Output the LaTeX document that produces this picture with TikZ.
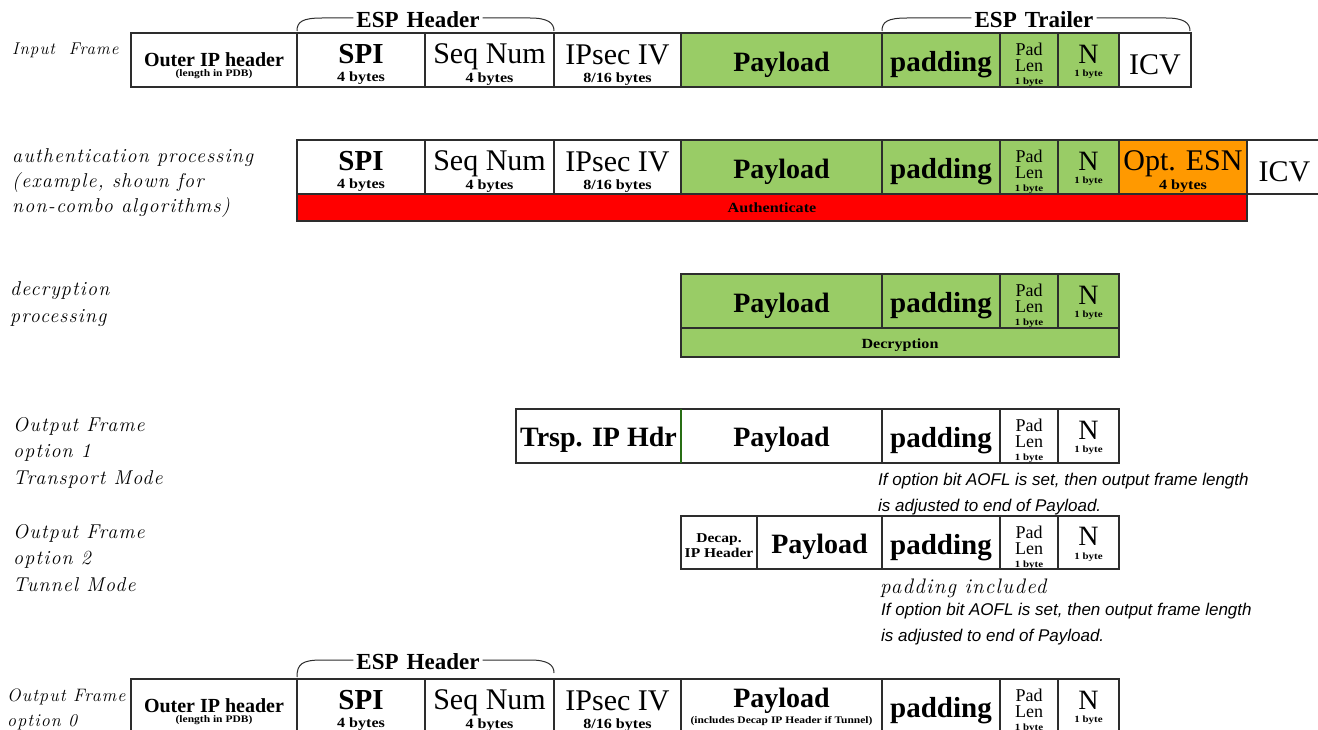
\documentclass[tikz,border=0pt]{standalone}
\usepackage{fontspec}
\newfontfamily\tms{Liberation Serif}
\newfontfamily\tmsw[FakeStretch=1.15]{Liberation Serif}
\newfontfamily\arl{Liberation Sans}
\newfontfamily\lmsp[LetterSpace=6]{Latin Modern Roman}
\newcommand\fs[1]{\fontsize{#1}{#1}\selectfont}
\definecolor{cellgreen}{RGB}{153,204,102}
\definecolor{esnorange}{RGB}{255,153,0}
\definecolor{authred}{RGB}{255,0,0}
\definecolor{edge}{RGB}{45,45,45}
\definecolor{hdrgreen}{RGB}{40,110,20}
\tikzset{
  cellbox/.style={draw=edge, line width=1.2pt, inner sep=0pt, outer sep=0pt, anchor=north west},
  celltext/.style={inner sep=0pt, align=center, font=\tms\fs{2}},
  grn/.style={fill=cellgreen},
  lbl/.style={anchor=base west, inner sep=0pt, align=left},
  note/.style={anchor=base west, inner sep=0pt, align=left,
    font=\arl\itshape\fontsize{17}{26}\selectfont},
  bracelbl/.style={inner ysep=0pt, inner xsep=3pt, font=\tms\bfseries\fs{23}},
  brace/.style={draw=edge, line width=1pt},
}
% one field of a frame: name, x0, x1, y0, y1, box style, drop of the text, text
\newcommand\field[8]{%
  \node[cellbox,minimum width={#3pt-#2pt},minimum height={#5pt-#4pt},#6] (#1) at (#2,#4) {};
  \node[celltext] (#1-t) at ([yshift=-#7pt]#1.center) {#8};}
\newcommand\bigB[1]{{\bfseries\fs{28}#1}}
\newcommand\bigR[1]{{\fs{30}#1}}
\newcommand\subtxt[1]{{\tmsw\bfseries\fs{14}#1}}
\newcommand\padlen{{\fs{18}Pad}\\[3pt]{\fs{18}Len}\\[5pt]{\tmsw\bfseries\fs{9.5}1 byte}}
\newcommand\nbyte{{\fs{28}N}\\[6pt]{\tmsw\bfseries\fs{9.5}1 byte}}
\newcommand\padd{{\bfseries\fs{29}padding}}
\newcommand\outerip{{\bfseries\fs{20}Outer IP header}\\[2pt]{\tmsw\bfseries\fs{10}(length in PDB)}}
\newcommand\spi{{\bfseries\fs{29}SPI}\\[7pt]\subtxt{4 bytes}}
\newcommand\seqn{\bigR{Seq Num}\\[2pt]\subtxt{4 bytes}}
\newcommand\ivtxt{\bigR{IPsec IV}\\[7pt]\subtxt{8/16 bytes}}
\begin{document}
\begin{tikzpicture}[x=1pt,y=-1pt]
\useasboundingbox (0,0) rectangle (1318,730);
\fill[white] (0,0) rectangle (1318,730);
\clip (0,0) rectangle (1318,730);

% ---- input frame ----
\node[lbl, font=\lmsp\itshape\fs{17}] (lin) at (12,55) {Input\ \ Frame};
\field{aIP}{131}{297}{33}{87}{}{6}{\outerip}
\field{aSPI}{297}{425}{33}{87}{}{4}{\spi}
\field{aSEQ}{425}{554}{33}{87}{}{5}{\seqn}
\field{aIV}{554}{681}{33}{87}{}{5}{\ivtxt}
\field{aPAY}{681}{882}{33}{87}{grn}{5}{\bigB{Payload}}
\field{aPAD}{882}{1000}{33}{87}{grn}{5}{\padd}
\field{aPL}{1000}{1058}{33}{87}{grn}{5}{\padlen}
\field{aN}{1058}{1119}{33}{87}{grn}{2}{\nbyte}
\field{aICV}{1119}{1191}{33}{87}{}{5}{\bigR{ICV}}
% header / trailer braces
\node[bracelbl] (hA) at (418,20) {ESP\hspace{0.35em}Header};
\draw[brace] (aSPI.north west) ++(0,-2) .. controls (297,22) and (302,18) .. (322,18) -- ([yshift=2pt]hA.west);
\draw[brace] ([yshift=2pt]hA.east) -- (530,18) .. controls (548,18) and (554,23) .. (554,31);
\node[bracelbl] (tA) at (1034,20) {ESP\hspace{0.35em}Trailer};
\draw[brace] (aPAD.north west) ++(0,-2) .. controls (882,22) and (887,18) .. (907,18) -- ([yshift=2pt]tA.west);
\draw[brace] ([yshift=2pt]tA.east) -- (1166,18) .. controls (1184,18) and (1190,23) .. (1190,31);

% ---- authentication processing ----
\node[lbl, font=\lmsp\itshape\fontsize{20}{25}\selectfont] (lauth) at (12,213)
  {authentication processing\\(example, shown for\\non-combo\ algorithms)};
\field{bSPI}{297}{425}{140}{194}{}{4}{\spi}
\field{bSEQ}{425}{554}{140}{194}{}{5}{\seqn}
\field{bIV}{554}{681}{140}{194}{}{5}{\ivtxt}
\field{bPAY}{681}{882}{140}{194}{grn}{5}{\bigB{Payload}}
\field{bPAD}{882}{1000}{140}{194}{grn}{5}{\padd}
\field{bPL}{1000}{1058}{140}{194}{grn}{5}{\padlen}
\field{bN}{1058}{1119}{140}{194}{grn}{2}{\nbyte}
\field{bESN}{1119}{1247}{140}{194}{fill=esnorange}{5}{\bigR{Opt. ESN}\\[2pt]\subtxt{4 bytes}}
\field{bICV}{1247}{1322}{140}{194}{}{5}{\bigR{ICV}}
\field{bAUTH}{297}{1247}{194}{221}{fill=authred}{0}{{\tmsw\bfseries\fs{14}Authenticate}}

% ---- decryption processing ----
\node[lbl, font=\lmsp\itshape\fontsize{20}{27}\selectfont] (ldec) at (10,323) {decryption\\processing};
\field{cPAY}{681}{882}{274}{328}{grn}{5}{\bigB{Payload}}
\field{cPAD}{882}{1000}{274}{328}{grn}{5}{\padd}
\field{cPL}{1000}{1058}{274}{328}{grn}{5}{\padlen}
\field{cN}{1058}{1119}{274}{328}{grn}{2}{\nbyte}
\field{cDEC}{681}{1119}{328}{357}{grn}{3}{{\tmsw\bfseries\fs{14}Decryption}}

% ---- output frame, option 1 ----
\node[lbl, font=\lmsp\itshape\fontsize{20}{26.5}\selectfont] (lo1) at (13,484)
  {Output Frame\\option 1\\Transport Mode};
\field{dIP}{516}{681}{409}{463}{}{4}{{\bfseries\fs{28}Trsp. IP Hdr}}
\field{dPAY}{681}{882}{409}{463}{}{4}{\bigB{Payload}}
\field{dPAD}{882}{1000}{409}{463}{}{5}{\padd}
\field{dPL}{1000}{1058}{409}{463}{}{5}{\padlen}
\field{dN}{1058}{1119}{409}{463}{}{2}{\nbyte}
\draw[hdrgreen, line width=1.2pt] (dIP.north east) -- (dIP.south east);
\node[note] (n1) at (878,511) {If option bit AOFL is set, then output frame length\\is adjusted to end of Payload.};

% ---- output frame, option 2 ----
\node[lbl, font=\lmsp\itshape\fontsize{20}{26.5}\selectfont] (lo2) at (13,591)
  {Output Frame\\option 2\\Tunnel Mode};
\field{eIP}{681}{757}{516}{569}{}{3}{{\tmsw\bfseries\fs{13.5}Decap.}\\[2pt]{\tmsw\bfseries\fs{13.5}IP Header}}
\field{ePAY}{757}{882}{516}{569}{}{4}{\bigB{Payload}}
\field{ePAD}{882}{1000}{516}{569}{}{5}{\padd}
\field{ePL}{1000}{1058}{516}{569}{}{5}{\padlen}
\field{eN}{1058}{1119}{516}{569}{}{2}{\nbyte}
\node[lbl, font=\lmsp\itshape\fs{21}] (pinc) at (880,593) {padding included};
\node[note] (n2) at (881,641) {If option bit AOFL is set, then output frame length\\is adjusted to end of Payload.};

% ---- output frame, option 0 ----
\node[lbl, font=\lmsp\itshape\fontsize{18}{25}\selectfont] (lo0) at (7,726) {Output Frame\\option 0};
\field{fIP}{131}{297}{679}{733}{}{6}{\outerip}
\field{fSPI}{297}{425}{679}{733}{}{4}{\spi}
\field{fSEQ}{425}{554}{679}{733}{}{5}{\seqn}
\field{fIV}{554}{681}{679}{733}{}{5}{\ivtxt}
\field{fPAY}{681}{882}{679}{733}{}{1}{\bigB{Payload}\\[2pt]{\tmsw\bfseries\fs{10}(includes Decap IP Header if Tunnel)}}
\field{fPAD}{882}{1000}{679}{733}{}{5}{\padd}
\field{fPL}{1000}{1058}{679}{733}{}{5}{\padlen}
\field{fN}{1058}{1119}{679}{733}{}{2}{\nbyte}
\node[bracelbl] (hF) at (418,662) {ESP\hspace{0.35em}Header};
\draw[brace] (fSPI.north west) ++(0,-2) .. controls (297,664) and (302,660) .. (322,660) -- ([yshift=2pt]hF.west);
\draw[brace] ([yshift=2pt]hF.east) -- (530,660) .. controls (548,660) and (554,665) .. (554,673);
\end{tikzpicture}
\end{document}
